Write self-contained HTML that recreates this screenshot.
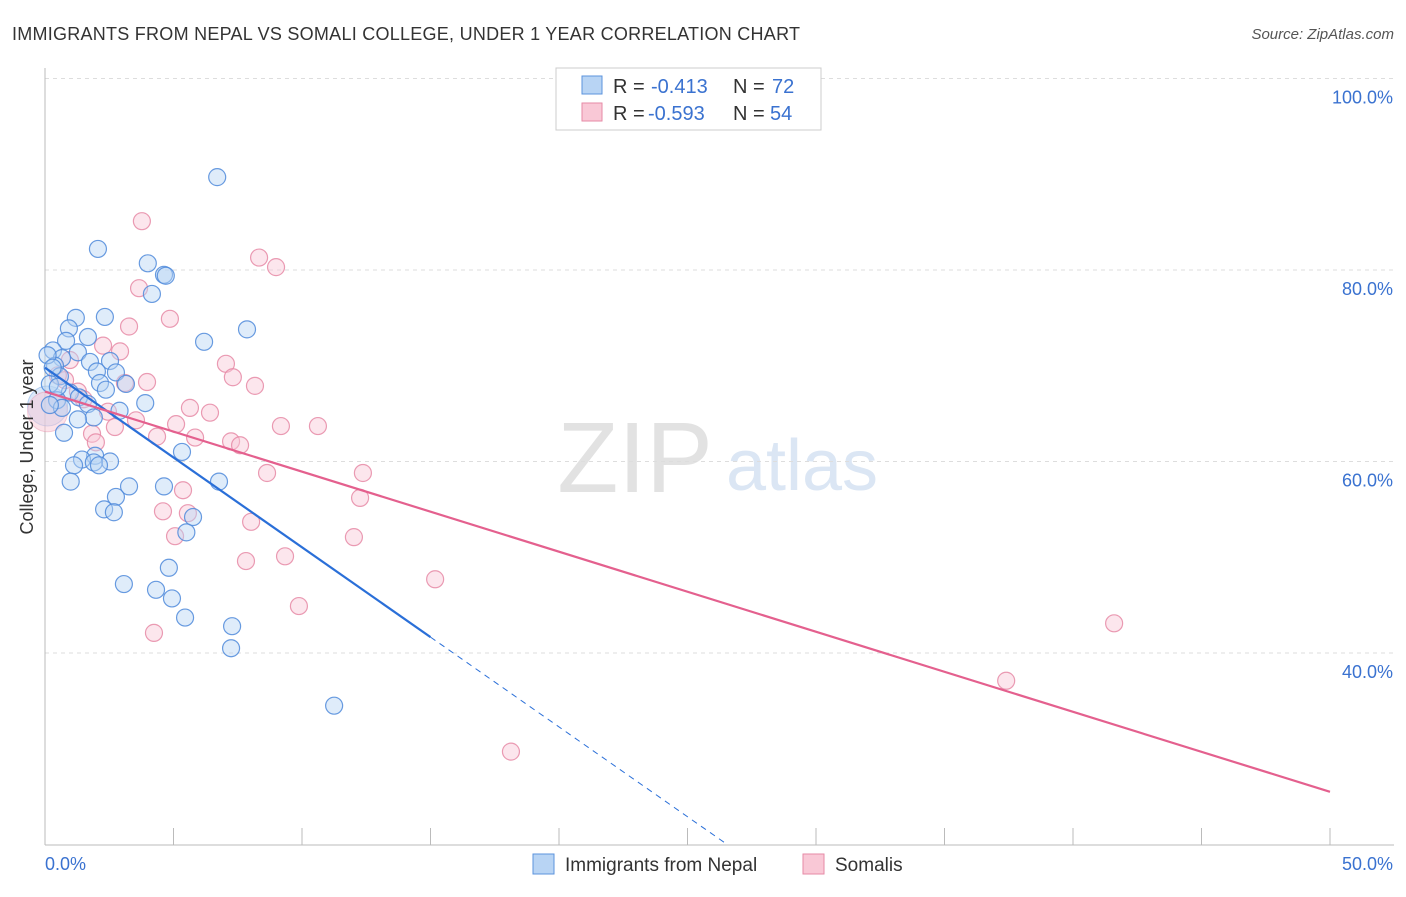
<!DOCTYPE html>
<html><head><meta charset="utf-8"><style>
body{margin:0;background:#fff;font-family:"Liberation Sans",sans-serif;}
svg text{font-family:"Liberation Sans",sans-serif;}
</style></head><body>
<svg id="c" width="1406" height="892">
<text x="12" y="40" font-size="18" fill="#333" textLength="788">IMMIGRANTS FROM NEPAL VS SOMALI COLLEGE, UNDER 1 YEAR CORRELATION CHART</text>
<text x="1394" y="39" font-size="15" fill="#555" font-style="italic" text-anchor="end">Source: ZipAtlas.com</text>
<g><text x="635" y="492" font-size="100" fill="#e2e2e2" text-anchor="middle" font-family="Liberation Serif">ZIP</text><text x="802" y="490" font-size="72" fill="#dbe6f4" text-anchor="middle">atlas</text></g>
<g id="grid"></g><g id="axes"></g><g id="pts"></g><g id="lines"></g>
<text x="41" y="455" font-size="18" fill="#333" text-anchor="middle" transform="rotate(-90 33 455)">College, Under 1 year</text>
<g>
<rect x="556" y="68" width="265" height="62" fill="#fff" stroke="#ccc"/>
<rect x="582" y="76" width="20" height="18" fill="#b8d4f4" stroke="#5b93dd"/>
<text y="93" font-size="20" fill="#333"><tspan x="613">R =</tspan><tspan x="651" fill="#3a72d0">-0.413</tspan><tspan x="733">N =</tspan><tspan x="772" fill="#3a72d0">72</tspan></text>
<rect x="582" y="103" width="20" height="18" fill="#f9c8d6" stroke="#e68aa6"/>
<text y="120" font-size="20" fill="#333"><tspan x="613">R =</tspan><tspan x="648" fill="#3a72d0">-0.593</tspan><tspan x="733">N =</tspan><tspan x="770" fill="#3a72d0">54</tspan></text>
</g>
<g>
<rect x="533" y="854" width="21" height="20" fill="#b8d4f4" stroke="#5b93dd"/>
<text x="565" y="871" font-size="19" fill="#333">Immigrants from Nepal</text>
<rect x="803" y="854" width="21" height="20" fill="#f9c8d6" stroke="#e68aa6"/>
<text x="835" y="871" font-size="19" fill="#333">Somalis</text>
</g>
</svg>
<script>
const nepalX=[6.7,2.06,4.0,4.63,4.7,4.16,1.2,2.33,0.93,7.86,1.67,0.82,6.19,0.31,1.28,0.66,1.75,2.53,0.39,2.02,2.76,0.58,2.14,3.15,0.19,2.37,0.97,1.32,0.47,3.9,1.67,0.66,2.9,0.19,1.9,1.28,0.74,5.33,1.95,1.44,2.53,1.9,2.1,1.13,6.77,1.0,4.63,3.27,2.76,2.3,2.68,5.76,5.5,4.82,3.07,4.32,4.94,5.45,7.28,7.24,11.25,0.1,0.3,0.5];
const nepalY=[89.7,82.2,80.7,79.5,79.4,77.5,75.0,75.1,73.9,73.8,73.0,72.6,72.5,71.6,71.4,70.8,70.4,70.5,70.0,69.4,69.3,68.9,68.2,68.1,68.1,67.5,67.2,66.7,66.4,66.1,66.0,65.6,65.3,65.9,64.6,64.4,63.0,61.0,60.6,60.2,60.0,59.9,59.6,59.6,57.9,57.9,57.4,57.4,56.3,55.0,54.7,54.2,52.6,48.9,47.2,46.6,45.7,43.7,42.8,40.5,34.5,71.1,69.8,67.8];
const somaliX=[3.77,8.33,8.99,3.66,4.86,3.27,2.26,2.92,0.97,7.04,7.31,3.97,3.11,8.17,0.78,1.28,5.64,6.42,2.45,3.54,5.1,9.18,10.62,2.72,1.83,5.84,4.36,1.98,7.24,7.59,8.64,12.37,5.37,12.26,4.59,5.56,8.02,5.06,12.02,9.34,7.82,15.18,9.88,41.6,4.24,37.4,18.13,0.5,1.5];
const somaliY=[85.1,81.3,80.3,78.1,74.9,74.1,72.1,71.5,70.6,70.2,68.8,68.3,68.2,67.9,68.5,67.3,65.6,65.1,65.2,64.3,63.9,63.7,63.7,63.6,62.9,62.5,62.6,62.0,62.1,61.7,58.8,58.8,57.0,56.2,54.8,54.6,53.7,52.2,52.1,50.1,49.6,47.7,44.9,43.1,42.1,37.1,29.7,69.0,66.5];
const yTicks=[100,80,60,40];
const xTickLabels=["0.0%","50.0%"];
const nepalTrend=[69.8,-1.876];
const somaliTrend=[67.3,-0.836];
const NS="http://www.w3.org/2000/svg";
const X=v=>45+v*25.7, Y=v=>78.5+(100-v)*9.575;
function mk(tag,a,parent){const e=document.createElementNS(NS,tag);for(const k in a)e.setAttribute(k,a[k]);document.getElementById(parent).appendChild(e);return e;}
yTicks.forEach(t=>{
 const l=mk('line',{x1:45,x2:1394,y1:Y(t),y2:Y(t),stroke:'#ddd','stroke-dasharray':'4 4'},'grid');
 
 
 const tx=mk('text',{x:1393,y:Y(t)+25,'font-size':18,fill:'#3a72d0','text-anchor':'end'},'grid');
 tx.textContent=t.toFixed(1)+'%';
 
 
});
mk('line',{x1:45,x2:45,y1:68,y2:845,stroke:'#bbb'},'axes');
mk('line',{x1:45,x2:1394,y1:845,y2:845,stroke:'#bbb'},'axes');
for(let i=0;i<=10;i++){const x=X(i*5);const t=mk('line',{x1:x,x2:x,y1:828,y2:845,stroke:'#bbb'},'axes');}
[[0,'start'],[50,'end']].forEach((p,i)=>{const t=mk('text',{x:X(p[0])+(i?63:0),y:870,'font-size':18,fill:'#3a72d0','text-anchor':p[1]},'axes');t.textContent=xTickLabels[i];});
[[0.1,65.8,'#b8d4f4','#5b93dd'],[0.1,65.2,'#f9c8d6','#e68aa6']].forEach(b=>{const c=mk('circle',{cx:X(b[0]),cy:Y(b[1]),r:20,fill:b[2],'fill-opacity':0.5,stroke:b[3],'stroke-opacity':0.4},'pts');});
somaliX.forEach((x,i)=>{const c=mk('circle',{cx:X(x),cy:Y(somaliY[i]),r:8.5,fill:'#f9c8d6','fill-opacity':0.45,stroke:'#e68aa6','stroke-opacity':0.85,'stroke-width':1.2},'pts');
 
 });
nepalX.forEach((x,i)=>{const c=mk('circle',{cx:X(x),cy:Y(nepalY[i]),r:8.5,fill:'#b8d4f4','fill-opacity':0.45,stroke:'#4f8ada','stroke-opacity':0.85,'stroke-width':1.2},'pts');
 
 });
const nf=x=>nepalTrend[0]+nepalTrend[1]*x, sf=x=>somaliTrend[0]+somaliTrend[1]*x;
const xEnd=(20-nepalTrend[0])/nepalTrend[1];
let l=mk('line',{x1:X(0),y1:Y(nf(0)),x2:X(15),y2:Y(nf(15)),stroke:'#2a6fd8','stroke-width':2.2},'lines');


l=mk('line',{x1:X(15),y1:Y(nf(15)),x2:X(xEnd),y2:Y(nf(xEnd)),stroke:'#2a6fd8','stroke-width':1,'stroke-dasharray':'6 5'},'lines');


l=mk('line',{x1:X(0),y1:Y(sf(0)),x2:X(50),y2:Y(sf(50)),stroke:'#e4608e','stroke-width':2.2},'lines');


</script>
</body></html>
